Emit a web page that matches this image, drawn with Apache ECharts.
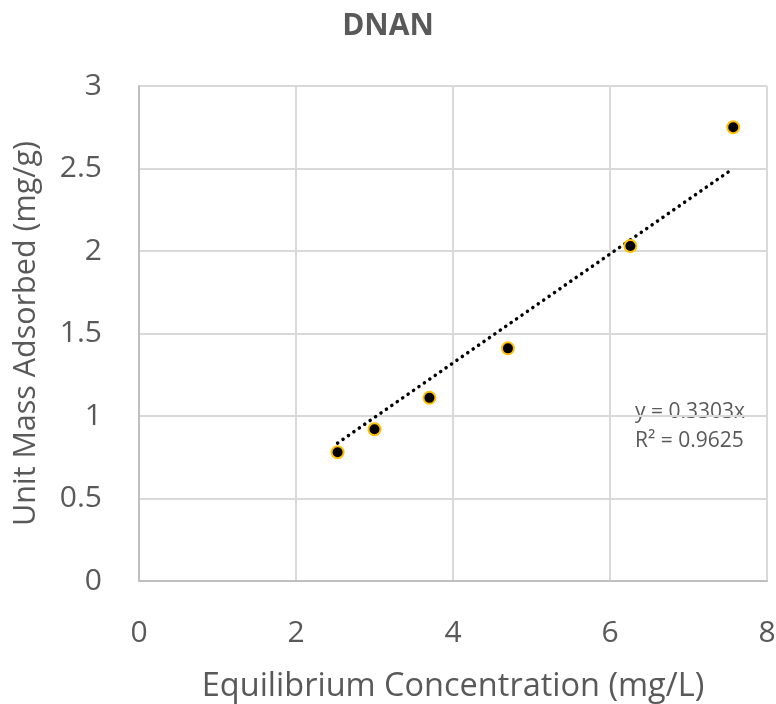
<!DOCTYPE html>
<html><head><meta charset="utf-8">
<script src="https://cdn.jsdelivr.net/npm/echarts@6/dist/echarts.min.js"></script>
<style>html,body{margin:0;padding:0;background:#fff}#c{width:776px;height:704px}</style>
</head><body><div id="c"></div>
<script>
const xValues = [2.53, 3.0, 3.7, 4.7, 6.26, 7.57];
const yValues = [0.78, 0.92, 1.11, 1.41, 2.03, 2.75];
const trendX = [2.53, 7.57];
const trendY = [0.836, 2.50];
const trendText = ['y = 0.3303x', 'R² = 0.9625'];
const title = 'DNAN';
const xName = 'Equilibrium Concentration (mg/L)';
const yName = 'Unit Mass Adsorbed (mg/g)';

const FONT = '"Open Sans", "Liberation Sans", sans-serif';
const chart = echarts.init(document.getElementById('c'));
chart.setOption({
  backgroundColor: '#fff',
  animation: false,
  title: { text: title, left: 'center', top: 6, textStyle: { fontFamily: FONT, fontSize: 30, fontWeight: 'bold', color: '#595959' } },
  grid: { left: 139, right: 9, top: 86, bottom: 123, containLabel: false, outerBoundsMode: 'none' },
  xAxis: {
    type: 'value', min: 0, max: 8, interval: 2,
    name: xName, nameLocation: 'middle', nameGap: 89,
    nameTextStyle: { fontFamily: FONT, fontSize: 32.5, color: '#595959' },
    axisLine: { lineStyle: { color: '#bfbfbf', width: 2 } },
    axisTick: { show: false },
    axisLabel: { fontFamily: FONT, fontSize: 30, color: '#595959', margin: 37 },
    splitLine: { lineStyle: { color: '#d9d9d9', width: 2 } }
  },
  yAxis: {
    type: 'value', min: 0, max: 3, interval: 0.5,
    name: yName, nameLocation: 'middle', nameGap: 97,
    nameTextStyle: { fontFamily: FONT, fontSize: 30.5, color: '#595959' },
    axisLine: { show: true, lineStyle: { color: '#bfbfbf', width: 2 } },
    axisTick: { show: false },
    axisLabel: { fontFamily: FONT, fontSize: 30, color: '#595959', margin: 37 },
    splitLine: { lineStyle: { color: '#d9d9d9', width: 2 } }
  },
  series: [
    {
      type: 'line', data: trendX.map((x, i) => [x, trendY[i]]),
      symbol: 'none', silent: true, z: 2,
      lineStyle: { color: '#000', width: 3.5, type: [0.1, 6.5], cap: 'round' }
    },
    {
      type: 'scatter', data: xValues.map((x, i) => [x, yValues[i]]),
      symbol: 'circle', symbolSize: 12, z: 3,
      itemStyle: { color: '#000', opacity: 1, borderColor: '#FFC000', borderWidth: 2 }
    }
  ],
  graphic: [{
    type: 'text', left: 635, top: 398,
    style: { text: trendText.join('\n'), fontFamily: FONT, fontSize: 21, lineHeight: 29, fill: '#595959' }
  }]
});
</script></body></html>
